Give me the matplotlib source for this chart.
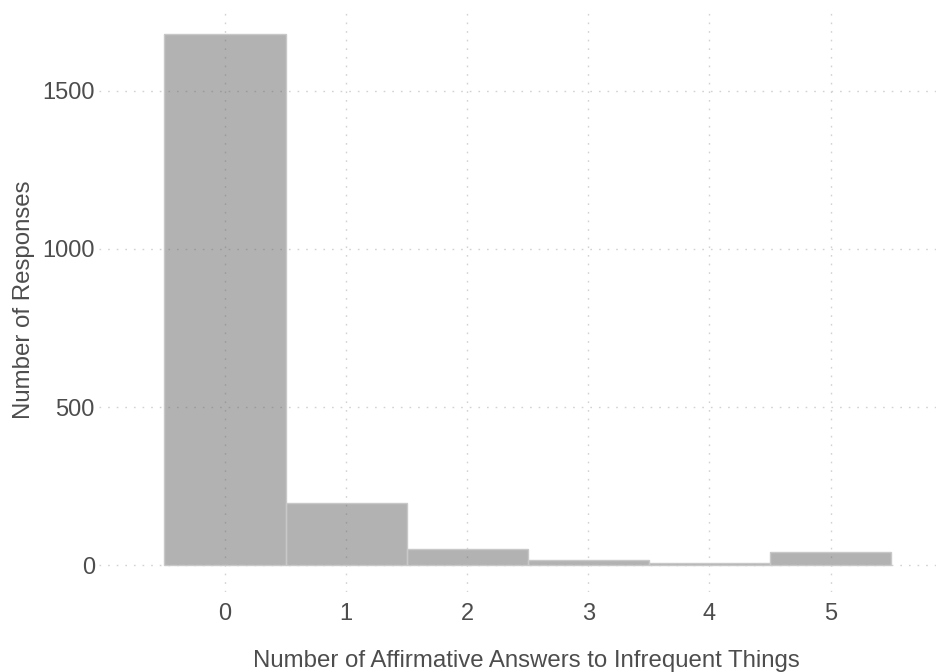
import matplotlib
matplotlib.use("Agg")
import matplotlib.pyplot as plt

plt.rcParams['font.family'] = ['Liberation Sans', 'DejaVu Sans']

# histogram counts, binwidth 1, bins centred on integers
answers = [0, 1, 2, 3, 4, 5]
responses = [1680, 197, 52, 18, 9, 43]
y_ticks = [0, 500, 1000, 1500]

BAR_COLOR = "#666666"
BAR_ALPHA = 0.5
EDGE_COLOR = "#c8c8c8"
TEXT_COLOR = "#4d4d4d"
GRID_COLOR = "#d2d2d2"

W, H = 938, 672
fig = plt.figure(figsize=(W / 100, H / 100), dpi=100)
# axes placed in pixel terms: left 99, right 936, top 7, bottom 592
ax = fig.add_axes([99 / W, (H - 592) / H, (936 - 99) / W, (592 - 7) / H])

ax.bar(answers, responses, width=1.0, color=BAR_COLOR, alpha=BAR_ALPHA,
       edgecolor="none", zorder=2)
ax.bar(answers, responses, width=1.0, fill=False, edgecolor=EDGE_COLOR,
       linewidth=1.0, zorder=3)

ax.set_xlim(-1.04, 5.87)
ax.set_ylim(-84, 1764)
ax.set_xticks(answers)
ax.set_yticks(y_ticks)

ax.grid(True, linestyle=(0, (1.2, 5)), color=GRID_COLOR, linewidth=1.0, zorder=0)
ax.set_axisbelow(True)
for s in ax.spines.values():
    s.set_visible(False)
ax.tick_params(axis='both', length=0, labelsize=17, labelcolor=TEXT_COLOR)
ax.tick_params(axis='y', pad=3)
ax.tick_params(axis='x', pad=8)

ax.set_xlabel("Number of Affirmative Answers to Infrequent Things",
              fontsize=17.3, color=TEXT_COLOR, va='center')
ax.set_ylabel("Number of Responses", fontsize=17.3, color=TEXT_COLOR,
              va='center')
ax.xaxis.set_label_coords(0.511, -0.118)
ax.yaxis.set_label_coords(-0.09, 0.5)

fig.savefig("out.png", dpi=100)
